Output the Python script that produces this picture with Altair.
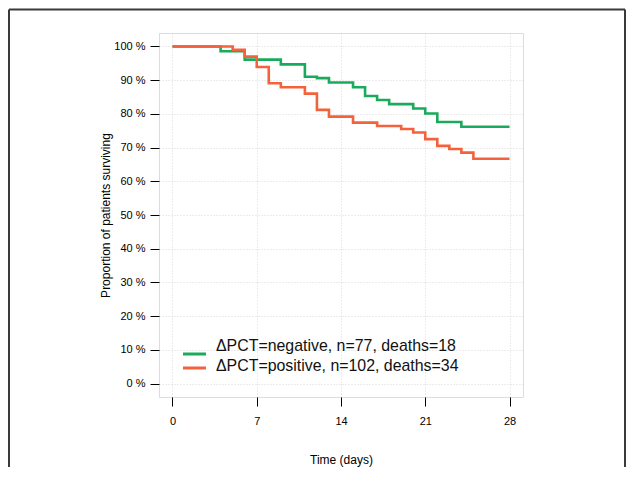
import altair as alt
import pandas as pd

# Kaplan-Meier step data
neg_days = [0, 4, 6, 9, 11, 12, 13, 15, 16, 17, 18, 20, 21, 22, 24, 28]
neg_surv = [100, 98.6, 96.1, 94.7, 91.0, 90.6, 89.3, 87.9, 85.3, 84.1, 82.9, 81.6, 80.1, 77.6, 76.2, 76.2]

pos_days = [0, 5, 6, 7, 8, 9, 11, 12, 13, 15, 17, 19, 20, 21, 22, 23, 24, 25, 28]
pos_surv = [100, 99.0, 97.0, 93.9, 89.1, 87.9, 86.0, 81.2, 79.2, 77.4, 76.4, 75.5, 74.5, 72.5, 70.5, 69.6, 68.5, 66.7, 66.7]

groups = ["ΔPCT=negative, n=77, deaths=18", "ΔPCT=positive, n=102, deaths=34"]
colors = ["#1aaa5c", "#f4623c"]

x_ticks = [0, 7, 14, 21, 28]
y_ticks = [0, 10, 20, 30, 40, 50, 60, 70, 80, 90, 100]

rows = []
for d, s in zip(neg_days, neg_surv):
    rows.append({"day": d, "surv": s, "group": groups[0], "ord": 0})
for d, s in zip(pos_days, pos_surv):
    rows.append({"day": d, "surv": s, "group": groups[1], "ord": 1})
df = pd.DataFrame(rows)

W, H = 364, 364
FONT = "Liberation Sans"

lines = alt.Chart(df).mark_line(interpolate="step-after", strokeWidth=2.6).encode(
    x=alt.X("day:Q",
            scale=alt.Scale(domain=[-1.12, 29.12], nice=False, zero=False),
            axis=alt.Axis(values=x_ticks, title="Time (days)", grid=True,
                          gridColor="#d8d8d8", gridDash=[1, 2], gridWidth=1,
                          domain=False, tickSize=9, tickColor="#000", tickWidth=1,
                          labelFont=FONT, labelFontSize=11, labelColor="#000",
                          labelPadding=9, titleFont=FONT, titleFontSize=12,
                          titleFontWeight="normal", titleColor="#000",
                          titlePadding=28)),
    y=alt.Y("surv:Q",
            scale=alt.Scale(domain=[-4, 104], nice=False, zero=False),
            axis=alt.Axis(values=y_ticks, title="Proportion of patients surviving",
                          labelExpr="datum.value + ' %'", grid=True,
                          gridColor="#d8d8d8", gridDash=[1, 2], gridWidth=1,
                          domain=False, tickSize=9, tickColor="#000", tickWidth=1,
                          labelFont=FONT, labelFontSize=11, labelColor="#000",
                          labelPadding=5, titleFont=FONT, titleFontSize=12,
                          titleFontWeight="normal", titleColor="#000",
                          titlePadding=1)),
    color=alt.Color("group:N", scale=alt.Scale(domain=groups, range=colors), legend=None),
    order=alt.Order("ord:Q"),
)

# Manual legend (placed inside the plot, bottom-left)
legend_layers = []
text_y = [313, 333]
line_y = [321, 335]
for i in range(len(groups)):
    ldf = pd.DataFrame({"label": [groups[i]]})
    legend_layers.append(
        alt.Chart(ldf).mark_rule(strokeWidth=3, color=colors[i]).encode(
            x=alt.value(24), x2=alt.value(47), y=alt.value(line_y[i])))
    legend_layers.append(
        alt.Chart(ldf).mark_text(align="left", baseline="middle", font=FONT,
                                 fontSize=15.9, color="#111").encode(
            text="label:N", x=alt.value(57), y=alt.value(text_y[i])))

one = pd.DataFrame({"a": [0]})
frame_top = alt.Chart(one).mark_rule(color="#3a3a3a", strokeWidth=2).encode(
    x=alt.value(-150), x2=alt.value(W + 102), y=alt.value(-23.5))
frame_left = alt.Chart(one).mark_rule(color="#3a3a3a", strokeWidth=2).encode(
    x=alt.value(-150), y=alt.value(-23.5), y2=alt.value(H + 80))
frame_right = alt.Chart(one).mark_rule(color="#3a3a3a", strokeWidth=2).encode(
    x=alt.value(W + 102), y=alt.value(-23.5), y2=alt.value(H + 80))

chart = alt.layer(frame_top, frame_left, frame_right, lines, *legend_layers).properties(
    width=W, height=H,
    autosize=alt.AutoSizeParams(type="none"),
    padding={"left": 151, "top": 25, "right": 103, "bottom": 70},
).configure_view(stroke="#111", strokeWidth=1.2).configure(background="white")

chart.save("out.html", embed_options={"renderer": "svg", "actions": False})
